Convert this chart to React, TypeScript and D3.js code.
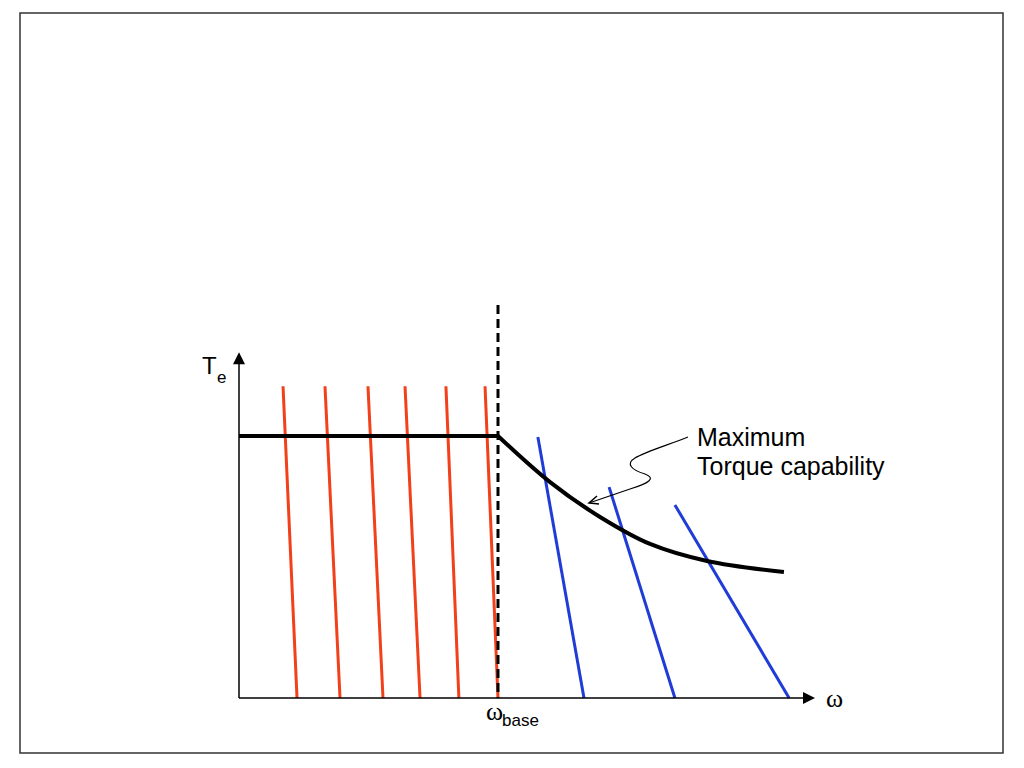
import React from "react";
import * as d3 from "d3";

// Speed in per-unit of base speed, torque in per-unit of rated torque
const X_MAX = 2.224;
const Y_MAX = 1.32;
const OMEGA_BASE = 1.0;
const DASH_TOP = 1.5;

// Constant-torque region lines (red): [top speed, bottom speed]
const redTopT = 1.19;
const redTop = [0.17, 0.332, 0.498, 0.641, 0.799, 0.95];
const redBottom = [0.224, 0.39, 0.556, 0.699, 0.849, 1.0];

// Field-weakening lines (blue)
const blueTopX = [1.154, 1.429, 1.683];
const blueTopT = [0.996, 0.805, 0.737];
const blueBottomX = [1.332, 1.683, 2.124];

// Maximum torque capability curve
const flatX = [0, 1.0];
const flatT = [1.0, 1.0];
const curveX = [1.0, 1.201, 1.394, 1.587, 1.807, 2.104];
const curveT = [1.0, 0.824, 0.691, 0.588, 0.523, 0.481];

const annotationLines = ["Maximum", "Torque capability"];

export default function App() {
  const x = d3.scaleLinear().domain([0, X_MAX]).range([239, 815]);
  const y = d3.scaleLinear().domain([0, 1]).range([698, 436]);

  const line = d3
    .line<[number, number]>()
    .x((d) => x(d[0]))
    .y((d) => y(d[1]));
  const smooth = d3
    .line<[number, number]>()
    .x((d) => x(d[0]))
    .y((d) => y(d[1]))
    .curve(d3.curveCatmullRom.alpha(0.5));

  const flatPts = flatX.map((v, i) => [v, flatT[i]] as [number, number]);
  const curvePts = curveX.map((v, i) => [v, curveT[i]] as [number, number]);
  const torquePath = (line(flatPts) || "") + (smooth(curvePts) || "").replace(/^M/, "L");

  const x0 = x(0);
  const y0 = y(0);
  const xEnd = x(X_MAX);
  const yEnd = y(Y_MAX);

  const red = "#f2401a";
  const blue = "#1f3cd6";

  return (
    <svg
      width={1024}
      height={768}
      style={{ position: "absolute", left: 0, top: 0, background: "#fff" }}
      fontFamily="'Liberation Sans', Arial, sans-serif"
    >
      <rect x={20} y={13} width={983} height={740} fill="none" stroke="#333" strokeWidth={1.5} />

      {/* red lines */}
      {redTop.map((t, i) => (
        <line
          key={"r" + i}
          x1={x(t)}
          y1={y(redTopT)}
          x2={x(redBottom[i])}
          y2={y(0)}
          stroke={red}
          strokeWidth={3}
        />
      ))}

      {/* blue lines */}
      {blueTopX.map((t, i) => (
        <line
          key={"b" + i}
          x1={x(t)}
          y1={y(blueTopT[i])}
          x2={x(blueBottomX[i])}
          y2={y(0)}
          stroke={blue}
          strokeWidth={3}
        />
      ))}

      {/* base speed dashed line */}
      <line
        x1={x(OMEGA_BASE)}
        y1={y(DASH_TOP)}
        x2={x(OMEGA_BASE)}
        y2={y(0)}
        stroke="#000"
        strokeWidth={3}
        strokeDasharray="9,5"
      />

      {/* torque capability */}
      <path d={torquePath} fill="none" stroke="#000" strokeWidth={4} strokeLinejoin="miter" />

      {/* axes */}
      <line x1={x0} y1={y0} x2={x0} y2={yEnd + 8} stroke="#000" strokeWidth={1.5} />
      <line x1={x0} y1={y0} x2={xEnd - 8} y2={y0} stroke="#000" strokeWidth={1.5} />
      <path d={`M${x0},${yEnd} L${x0 - 6},${yEnd + 12} L${x0 + 6},${yEnd + 12} Z`} fill="#000" />
      <path d={`M${xEnd},${y0} L${xEnd - 12},${y0 - 6} L${xEnd - 12},${y0 + 6} Z`} fill="#000" />

      {/* axis labels */}
      <text x={202} y={374} fontSize={24} fill="#000">
        T
      </text>
      <text x={217} y={383} fontSize={17} fill="#000">
        e
      </text>
      <text x={826} y={707} fontSize={26} fontFamily="'Liberation Serif', serif" fill="#000">
        ω
      </text>
      <text x={486} y={720} fontSize={26} fontFamily="'Liberation Serif', serif" fill="#000">
        ω
      </text>
      <text x={502} y={726} fontSize={17} fill="#000">
        base
      </text>

      {/* annotation */}
      {annotationLines.map((s, i) => (
        <text key={s} x={697} y={446 + i * 29} fontSize={25} fill="#000">
          {s}
        </text>
      ))}
      <path
        d="M688,437 C665,446 645,452 635,458 C625,464 632,470 645,474 C656,478 650,483 630,489 L589,503"
        fill="none"
        stroke="#000"
        strokeWidth={1.2}
      />
      <path d="M597,496 L589,503 L599,504" fill="none" stroke="#000" strokeWidth={1.5} />
    </svg>
  );
}
